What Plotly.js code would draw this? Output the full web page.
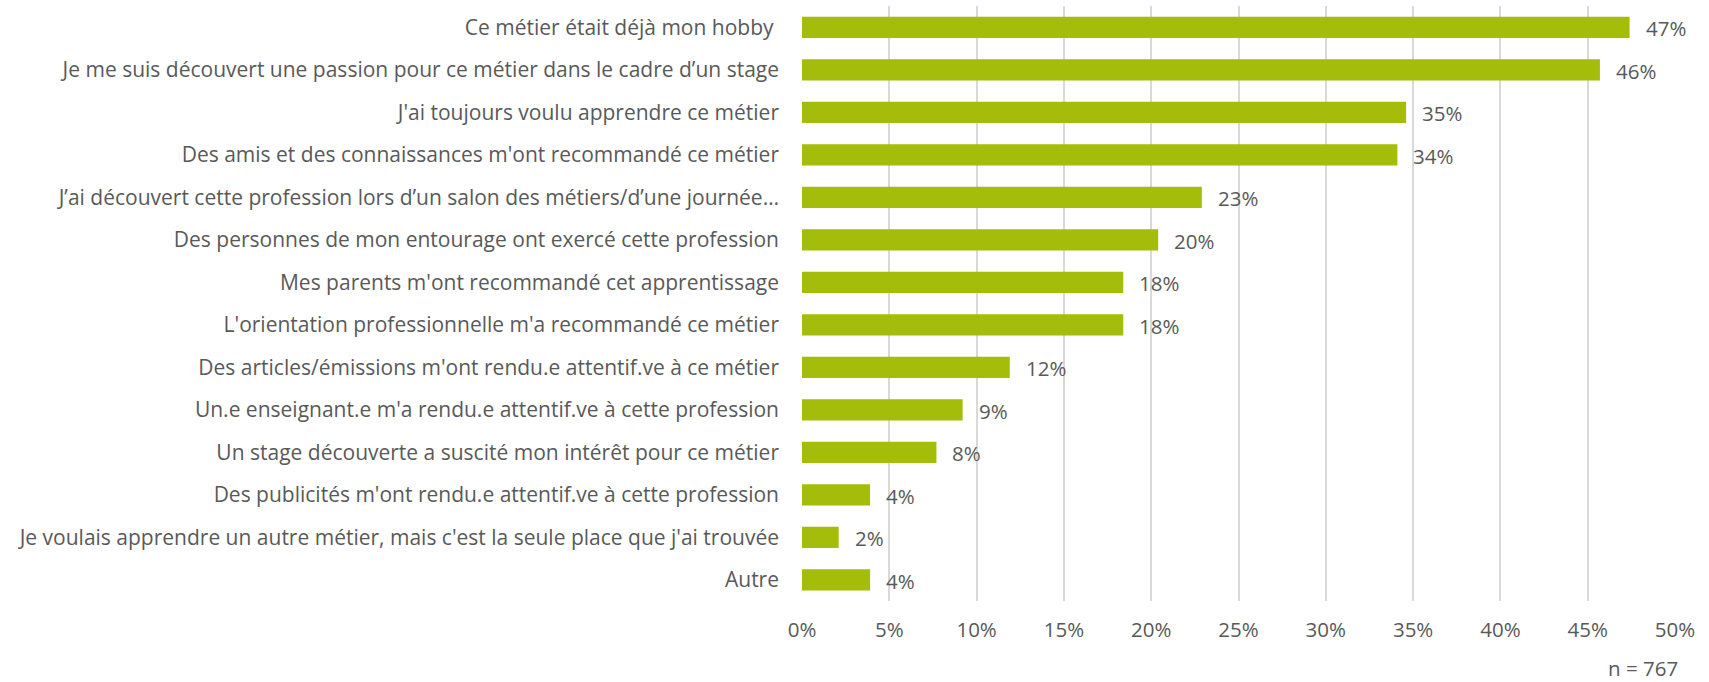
<!DOCTYPE html>
<html>
<head>
<meta charset="utf-8">
<script src="https://cdn.plot.ly/plotly-3.0.1.min.js"></script>
<style>html,body{margin:0;padding:0;background:#fff;}#chart{width:1709px;height:682px;}</style>
</head>
<body>
<div id="chart"></div>
<script>
const categories = [
  "Ce métier était déjà mon hobby ",
  "Je me suis découvert une passion pour ce métier dans le cadre d’un stage",
  "J'ai toujours voulu apprendre ce métier",
  "Des amis et des connaissances m'ont recommandé ce métier",
  "J’ai découvert cette profession lors d’un salon des métiers/d’une journée…",
  "Des personnes de mon entourage ont exercé cette profession",
  "Mes parents m'ont recommandé cet apprentissage",
  "L'orientation professionnelle m'a recommandé ce métier",
  "Des articles/émissions m'ont rendu.e attentif.ve à ce métier",
  "Un.e enseignant.e m'a rendu.e attentif.ve à cette profession",
  "Un stage découverte a suscité mon intérêt pour ce métier",
  "Des publicités m'ont rendu.e attentif.ve à cette profession",
  "Je voulais apprendre un autre métier, mais c'est la seule place que j'ai trouvée",
  "Autre"
];
const values = [47.4, 45.7, 34.6, 34.1, 22.9, 20.4, 18.4, 18.4, 11.9, 9.2, 7.7, 3.9, 2.1, 3.9];
const valueLabels = ["47%","46%","35%","34%","23%","20%","18%","18%","12%","9%","8%","4%","2%","4%"];
const xTickVals = [0,5,10,15,20,25,30,35,40,45,50];
const xTickText = ["0%","5%","10%","15%","20%","25%","30%","35%","40%","45%","50%"];
const note = "n = 767";

const FONT = "Open Sans, sans-serif";
const GRAY = "#595959";

const annotations = categories.map((c, i) => ({
  x: values[i], y: c, xref: "x", yref: "y",
  text: valueLabels[i], showarrow: false, xanchor: "left", yanchor: "middle",
  xshift: 14, yshift: -1, font: {family: FONT, size: 20.5, color: GRAY}
}));
annotations.push({
  xref: "paper", yref: "paper", x: 1.006, y: -0.14, xanchor: "right", yanchor: "bottom",
  text: note, showarrow: false, font: {family: FONT, size: 20.5, color: GRAY}
});

Plotly.newPlot("chart", [{
  type: "bar", orientation: "h",
  x: values, y: categories,
  marker: {color: "#A4BC0A"},
  hoverinfo: "none"
}], {
  width: 1709, height: 682,
  margin: {l: 802, r: 34, t: 6, b: 81},
  paper_bgcolor: "#ffffff", plot_bgcolor: "#ffffff",
  bargap: 0.5,
  showlegend: false,
  xaxis: {
    range: [0, 50], tickvals: xTickVals, ticktext: xTickText,
    showgrid: true, gridcolor: "#D9D9D9", gridwidth: 2,
    zeroline: false, showline: false, ticks: "",
    tickfont: {family: FONT, size: 20.5, color: GRAY},
    ticklabelstandoff: 14, fixedrange: true
  },
  yaxis: {
    type: "category", autorange: "reversed",
    categoryorder: "array", categoryarray: categories,
    showgrid: false, zeroline: false, showline: false, ticks: "",
    tickfont: {family: FONT, size: 21, color: GRAY},
    ticklabelstandoff: 22, fixedrange: true
  },
  annotations: annotations
}, {displayModeBar: false, staticPlot: true});
</script>
</body>
</html>
